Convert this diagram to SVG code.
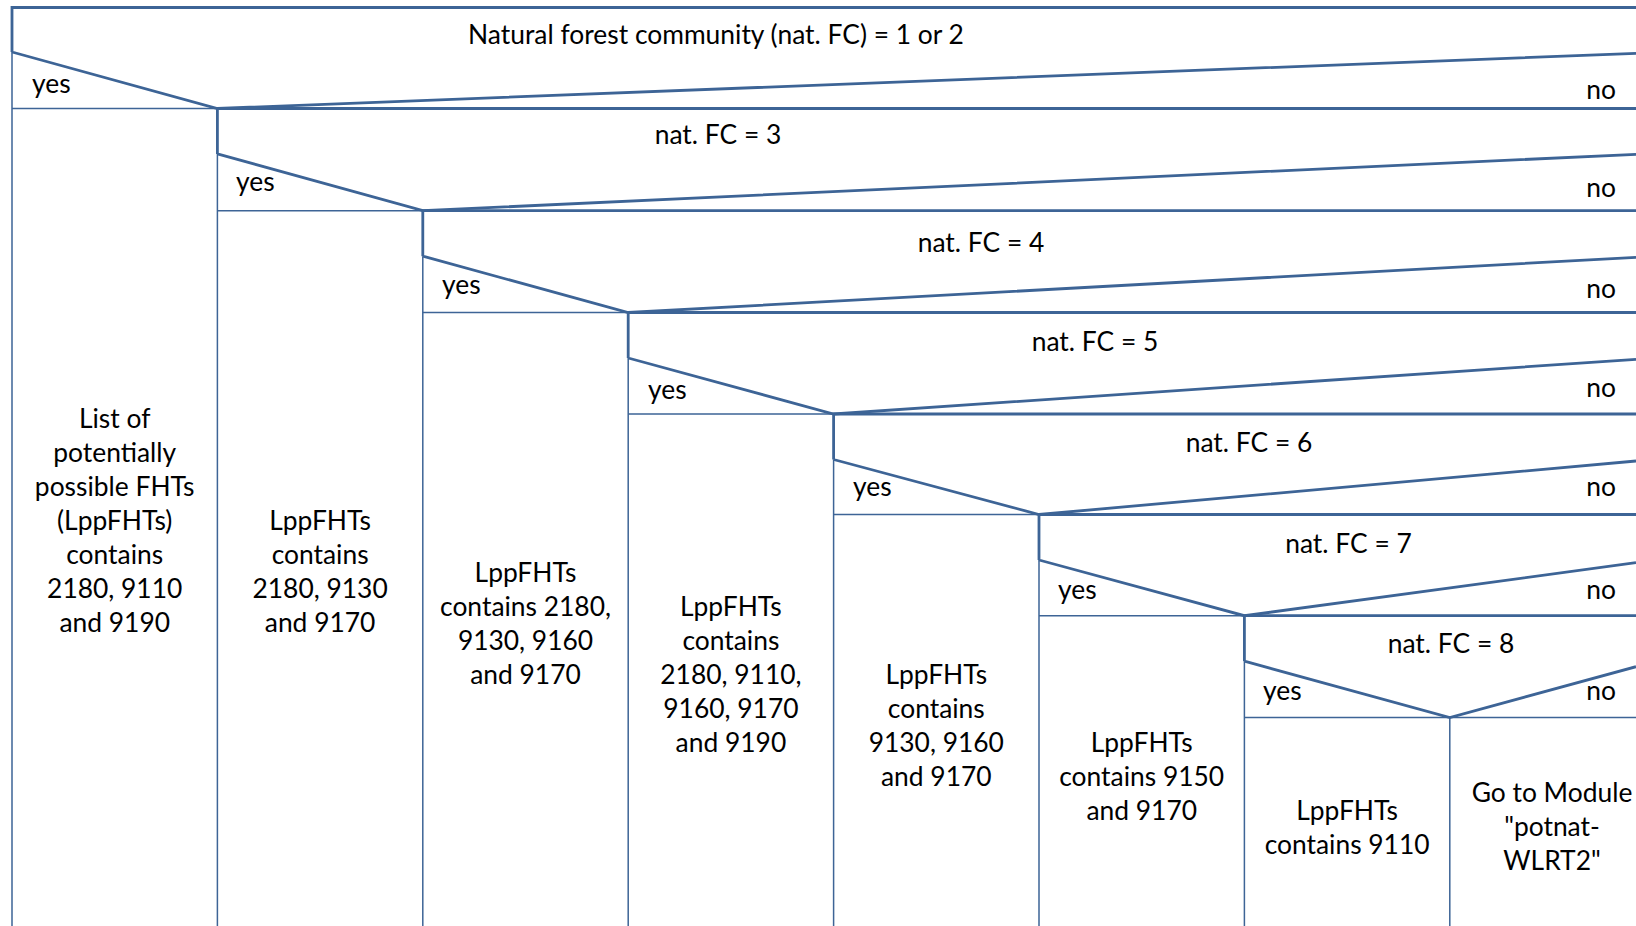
<svg xmlns="http://www.w3.org/2000/svg" width="1636" height="926" viewBox="0 0 1636 926">
<style>
.thick{fill:none;stroke:#3D6496;stroke-width:2.8;stroke-linejoin:miter;stroke-linecap:butt}
.thin{fill:none;stroke:#3D6496;stroke-width:1.5}
text{font-family:Lato,"Liberation Sans",sans-serif;font-size:26.4px;fill:#000}
.c{text-anchor:middle}
.e{text-anchor:end}
</style>
<rect width="1636" height="926" fill="#fff"/>
<g id="connectors">
<path class="thin" d="M12,52 V926 M217.4,153.9 V926 M422.8,256.2 V926 M628.2,358 V926 M833.6,459.5 V926 M1039,560 V926 M1244.4,661.2 V926 M1449.8,717.5 V926"/>
<path class="thin" d="M12,108.5 H217.4 M217.4,210.7 H422.8 M422.8,312.5 H628.2 M628.2,414 H833.6 M833.6,514.5 H1039 M1039,615.7 H1244.4 M1244.4,717.5 H1636"/>
</g>
<g id="d1">
<path class="thick" d="M12,52 V7.5 H1636 M12,52 L217.4,108.5 L1636,53.3"/>
<text class="c" x="716" y="44">Natural forest community (nat. FC) = 1 or 2</text>
<text x="32" y="93.2">yes</text>
<text class="e" x="1616" y="99.4">no</text>
</g>
<g id="d2">
<path class="thick" d="M217.4,153.9 V108.5 H1636 M217.4,153.9 L422.8,210.7 L1636,154.3"/>
<text class="c" x="718" y="143.5">nat. FC = 3</text>
<text x="236" y="191.2">yes</text>
<text class="e" x="1616" y="196.5">no</text>
</g>
<g id="d3">
<path class="thick" d="M422.8,256.2 V210.7 H1636 M422.8,256.2 L628.2,312.5 L1636,257.3"/>
<text class="c" x="981" y="252">nat. FC = 4</text>
<text x="442" y="293.6">yes</text>
<text class="e" x="1616" y="297.6">no</text>
</g>
<g id="d4">
<path class="thick" d="M628.2,358 V312.5 H1636 M628.2,358 L833.6,414 L1636,359.3"/>
<text class="c" x="1095" y="351">nat. FC = 5</text>
<text x="648" y="398.9">yes</text>
<text class="e" x="1616" y="396.8">no</text>
</g>
<g id="d5">
<path class="thick" d="M833.6,459.5 V414 H1636 M833.6,459.5 L1039,514.5 L1636,461"/>
<text class="c" x="1249" y="451.5">nat. FC = 6</text>
<text x="853" y="495.9">yes</text>
<text class="e" x="1616" y="495.9">no</text>
</g>
<g id="d6">
<path class="thick" d="M1039,560 V514.5 H1636 M1039,560 L1244.4,615.7 L1636,562.7"/>
<text class="c" x="1348.5" y="552.5">nat. FC = 7</text>
<text x="1058" y="599.2">yes</text>
<text class="e" x="1616" y="599.2">no</text>
</g>
<g id="d7">
<path class="thick" d="M1244.4,661.2 V615.7 H1636 M1244.4,661.2 L1449.8,717.5 L1636,666.7"/>
<text class="c" x="1451" y="652.5">nat. FC = 8</text>
<text x="1263" y="700.4">yes</text>
<text class="e" x="1616" y="700.4">no</text>
</g>
<g id="c0">
<text class="c" x="114.7" y="428">List of</text>
<text class="c" x="114.7" y="462">potentially</text>
<text class="c" x="114.7" y="496">possible FHTs</text>
<text class="c" x="114.7" y="530">(LppFHTs)</text>
<text class="c" x="114.7" y="564">contains</text>
<text class="c" x="114.7" y="598">2180, 9110</text>
<text class="c" x="114.7" y="632">and 9190</text>
</g>
<g id="c1">
<text class="c" x="320.1" y="530">LppFHTs</text>
<text class="c" x="320.1" y="564">contains</text>
<text class="c" x="320.1" y="598">2180, 9130</text>
<text class="c" x="320.1" y="632">and 9170</text>
</g>
<g id="c2">
<text class="c" x="525.5" y="581.5">LppFHTs</text>
<text class="c" x="525.5" y="615.5">contains 2180,</text>
<text class="c" x="525.5" y="649.5">9130, 9160</text>
<text class="c" x="525.5" y="683.5">and 9170</text>
</g>
<g id="c3">
<text class="c" x="730.9" y="615.5">LppFHTs</text>
<text class="c" x="730.9" y="649.5">contains</text>
<text class="c" x="730.9" y="683.5">2180, 9110,</text>
<text class="c" x="730.9" y="717.5">9160, 9170</text>
<text class="c" x="730.9" y="751.5">and 9190</text>
</g>
<g id="c4">
<text class="c" x="936.3" y="683.5">LppFHTs</text>
<text class="c" x="936.3" y="717.5">contains</text>
<text class="c" x="936.3" y="751.5">9130, 9160</text>
<text class="c" x="936.3" y="785.5">and 9170</text>
</g>
<g id="c5">
<text class="c" x="1141.7" y="751.5">LppFHTs</text>
<text class="c" x="1141.7" y="785.5">contains 9150</text>
<text class="c" x="1141.7" y="819.5">and 9170</text>
</g>
<g id="c6">
<text class="c" x="1347.1" y="819.5">LppFHTs</text>
<text class="c" x="1347.1" y="853.5">contains 9110</text>
</g>
<g id="c7">
<text class="c" x="1552" y="802">Go to Module</text>
<text class="c" x="1552" y="836">"potnat-</text>
<text class="c" x="1552" y="870">WLRT2"</text>
</g>
</svg>
